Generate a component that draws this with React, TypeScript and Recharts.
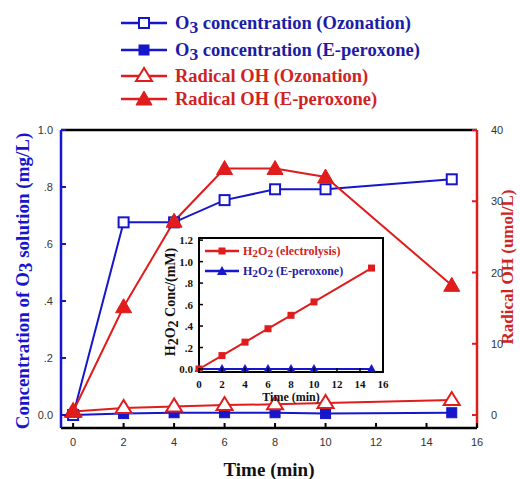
import React from 'react';
import { LineChart, Line, XAxis, YAxis, ReferenceLine, ReferenceArea } from 'recharts';

// sampling times (min)
const times = [0, 2, 4, 6, 8, 10, 15];
// O3 concentration (mg/L)
const o3Ozonation = [0.0, 0.676, 0.676, 0.754, 0.792, 0.792, 0.827];
const o3EPeroxone = [0.0, 0.005, 0.008, 0.008, 0.008, 0.005, 0.008];
// radical OH (umol/L)
const ohOzonation = [0.5, 1.0, 1.2, 1.4, 1.5, 1.7, 2.1];
const ohEPeroxone = [0.5, 15.2, 27.2, 34.6, 34.6, 33.4, 18.2];
// inset: H2O2 (mM)
const h2o2Electrolysis = [0.0, 0.125, 0.25, 0.375, 0.5, 0.625, 0.94];
const h2o2EPeroxone = [0, 0, 0, 0, 0, 0, 0];

const timeTicks = [0, 2, 4, 6, 8, 10, 12, 14, 16];
const leftTicks = [0, 0.2, 0.4, 0.6, 0.8, 1.0];
const rightTicks = [0, 10, 20, 30, 40];
const insetYTicks = [0, 0.2, 0.4, 0.6, 0.8, 1.0, 1.2];

const data = times.map((t, i) => ({
  t,
  o3Oz: o3Ozonation[i],
  o3Ep: o3EPeroxone[i],
  ohOz: ohOzonation[i],
  ohEp: ohEPeroxone[i],
}));

const insetData = times.map((t, i) => ({
  t,
  el: h2o2Electrolysis[i],
  ep: h2o2EPeroxone[i],
}));

const BLUE = '#1616cc';
const BLUE_TEXT = '#1c1ca6';
const RED = '#e01c1c';
const RED_TEXT = '#cf2424';
const SERIF = '"Liberation Serif", "Times New Roman", serif';
const SANS = '"Liberation Sans", Arial, sans-serif';

const fmtDec = (v: number) => {
  if (v === 0) return '0.0';
  if (Math.abs(v - 1) < 1e-9) return '1.0';
  if (Math.abs(v - 1.2) < 1e-9) return '1.2';
  return '.' + Math.round(v * 10);
};

// dots
const openSquare = (p: any) => (
  <rect key={p.index} x={p.cx - 5} y={p.cy - 5} width={10} height={10} fill="#fff" stroke={BLUE} strokeWidth={2} />
);
const filledSquare = (p: any) => (
  <rect key={p.index} x={p.cx - 5} y={p.cy - 5} width={10} height={10} fill={BLUE} stroke={BLUE} strokeWidth={1} />
);
const openTriangle = (p: any) => (
  <polygon
    key={p.index}
    points={`${p.cx},${p.cy - 8} ${p.cx - 8},${p.cy + 5} ${p.cx + 8},${p.cy + 5}`}
    fill="#fff"
    stroke={RED}
    strokeWidth={2}
  />
);
const filledTriangle = (p: any) => (
  <polygon
    key={p.index}
    points={`${p.cx},${p.cy - 8} ${p.cx - 8},${p.cy + 6} ${p.cx + 8},${p.cy + 6}`}
    fill={RED}
    stroke={RED}
  />
);
const smallSquare = (p: any) => (
  <rect key={p.index} x={p.cx - 3.5} y={p.cy - 3.5} width={7} height={7} fill={RED} />
);
const smallTriangle = (p: any) => (
  <polygon
    key={p.index}
    points={`${p.cx},${p.cy - 5} ${p.cx - 5},${p.cy + 4} ${p.cx + 5},${p.cy + 4}`}
    fill={BLUE}
  />
);

// ticks (drawn inward)
const LeftTick = ({ x, y, payload }: any) => (
  <g>
    <line x1={x} y1={y} x2={x + 5} y2={y} stroke={BLUE} strokeWidth={2} />
    <text x={x - 8} y={y} dy={4} textAnchor="end" fontSize={11} fill="#333" fontFamily={SANS}>
      {fmtDec(payload.value)}
    </text>
  </g>
);
const RightTick = ({ x, y, payload }: any) => (
  <g>
    <line x1={x} y1={y} x2={x - 5} y2={y} stroke={RED} strokeWidth={2} />
    <text x={x + 14} y={y} dy={4} textAnchor="start" fontSize={11} fill="#333" fontFamily={SANS}>
      {payload.value}
    </text>
  </g>
);
const BottomTick = ({ x, y, payload }: any) => (
  <g>
    <line x1={x} y1={y} x2={x} y2={y - 5} stroke="#000" strokeWidth={2} />
    <text x={x} y={y + 18} textAnchor="middle" fontSize={11} fill="#333" fontFamily={SANS}>
      {payload.value}
    </text>
  </g>
);
const InsetLeftTick = ({ x, y, payload }: any) => (
  <g>
    <line x1={x} y1={y} x2={x + 4} y2={y} stroke="#000" strokeWidth={1.5} />
    <text x={x - 6} y={y} dy={4} textAnchor="end" fontSize={11} fontWeight="bold" fill="#111" fontFamily={SERIF}>
      {fmtDec(payload.value)}
    </text>
  </g>
);
const InsetBottomTick = ({ x, y, payload }: any) => (
  <g>
    <line x1={x} y1={y} x2={x} y2={y - 4} stroke="#000" strokeWidth={1.5} />
    <text x={x} y={y + 16} textAnchor="middle" fontSize={11} fontWeight="bold" fill="#111" fontFamily={SERIF}>
      {payload.value}
    </text>
  </g>
);

// axis titles
const LeftTitle = ({ viewBox }: any) => {
  const cx = viewBox.x + 22;
  const cy = viewBox.y + viewBox.height / 2 + 2;
  return (
    <text
      x={cx}
      y={cy}
      transform={`rotate(-90 ${cx} ${cy})`}
      textAnchor="middle"
      dominantBaseline="central"
      fontFamily={SERIF}
      fontWeight="bold"
      fontSize={19}
      fill={BLUE}
    >
      Concentration of O<tspan dy={3}>3</tspan>
      <tspan dy={-3}> solution (mg/L)</tspan>
    </text>
  );
};
const RightTitle = ({ viewBox }: any) => {
  const cx = viewBox.x + 30;
  const cy = viewBox.y + viewBox.height / 2 - 12;
  return (
    <text
      x={cx}
      y={cy}
      transform={`rotate(-90 ${cx} ${cy})`}
      textAnchor="middle"
      dominantBaseline="central"
      fontFamily={SERIF}
      fontWeight="bold"
      fontSize={17}
      fill={RED_TEXT}
    >
      Radical OH (umol/L)
    </text>
  );
};
const BottomTitle = ({ viewBox }: any) => (
  <text
    x={viewBox.x + viewBox.width / 2}
    y={viewBox.y + 48}
    textAnchor="middle"
    fontFamily={SERIF}
    fontWeight="bold"
    fontSize={19}
    fill="#111"
  >
    Time (min)
  </text>
);
const InsetLeftTitle = ({ viewBox }: any) => {
  const cx = viewBox.x + 20;
  const cy = viewBox.y + viewBox.height / 2 - 3;
  return (
    <text
      x={cx}
      y={cy}
      transform={`rotate(-90 ${cx} ${cy})`}
      textAnchor="middle"
      dominantBaseline="central"
      fontFamily={SERIF}
      fontWeight="bold"
      fontSize={14}
      fill="#111"
    >
      H<tspan dy={3}>2</tspan>
      <tspan dy={-3}>O</tspan>
      <tspan dy={3}>2</tspan>
      <tspan dy={-3}> Conc/(mM)</tspan>
    </text>
  );
};
const InsetBottomTitle = ({ viewBox }: any) => (
  <text
    x={viewBox.x + viewBox.width / 2}
    y={viewBox.y + 29}
    textAnchor="middle"
    fontFamily={SERIF}
    fontWeight="bold"
    fontSize={12}
    fill="#111"
  >
    Time (min)
  </text>
);

const Sub = ({ children }: any) => (
  <span style={{ fontSize: '0.95em', position: 'relative', top: '0.2em' }}>{children}</span>
);

const mainLegend = [
  { label: <>O<Sub>3</Sub> concentration (Ozonation)</>, text: BLUE_TEXT, line: BLUE, marker: 'openSquare', y: 23 },
  { label: <>O<Sub>3</Sub> concentration (E-peroxone)</>, text: BLUE_TEXT, line: BLUE, marker: 'filledSquare', y: 50 },
  { label: <>Radical OH (Ozonation)</>, text: RED_TEXT, line: RED, marker: 'openTriangle', y: 76 },
  { label: <>Radical OH (E-peroxone)</>, text: RED_TEXT, line: RED, marker: 'filledTriangle', y: 99 },
];

const insetLegend = [
  { label: <>H<Sub>2</Sub>O<Sub>2</Sub> (electrolysis)</>, text: RED_TEXT, line: RED, marker: 'smallSquare', y: 251 },
  { label: <>H<Sub>2</Sub>O<Sub>2</Sub> (E-peroxone)</>, text: BLUE_TEXT, line: BLUE, marker: 'smallTriangle', y: 271 },
];

const markers: Record<string, (p: any) => React.ReactElement> = {
  openSquare,
  filledSquare,
  openTriangle,
  filledTriangle,
  smallSquare,
  smallTriangle,
};

const LegendRow = ({ item, left, lineW, textLeft, fontSize }: any) => (
  <div
    style={{
      position: 'absolute',
      left,
      top: item.y - 12,
      height: 24,
      display: 'flex',
      alignItems: 'center',
      whiteSpace: 'nowrap',
    }}
  >
    <svg width={lineW} height={24} style={{ display: 'block' }}>
      <line x1={0} y1={12} x2={lineW} y2={12} stroke={item.line} strokeWidth={2.5} />
      {markers[item.marker]({ cx: lineW / 2, cy: 12, index: 0 })}
    </svg>
    <span
      style={{
        marginLeft: textLeft,
        color: item.text,
        fontFamily: SERIF,
        fontWeight: 'bold',
        fontSize,
        lineHeight: '24px',
      }}
    >
      {item.label}
    </span>
  </div>
);

export default function App() {
  return (
    <div style={{ position: 'absolute', left: 0, top: 0, width: 520, height: 479, background: '#fff' }}>
      <LineChart width={520} height={479} data={data} margin={{ top: 130, right: 0, bottom: 21, left: 0 }}>
        <XAxis
          dataKey="t"
          type="number"
          domain={[-0.48, 16]}
          ticks={timeTicks}
          interval={0}
          allowDataOverflow
          axisLine={{ stroke: '#000', strokeWidth: 2.5 }}
          tickLine={false}
          tickSize={0}
          tickMargin={0}
          tick={<BottomTick />}
          height={30}
          label={<BottomTitle />}
        />
        <YAxis
          yAxisId="left"
          domain={[-0.0456, 1.0]}
          ticks={leftTicks}
          interval={0}
          allowDataOverflow
          width={61}
          axisLine={{ stroke: BLUE, strokeWidth: 2.5 }}
          tickLine={false}
          tickSize={0}
          tickMargin={0}
          tick={<LeftTick />}
          label={<LeftTitle />}
        />
        <YAxis
          yAxisId="right"
          orientation="right"
          domain={[-1.82, 40]}
          ticks={rightTicks}
          interval={0}
          allowDataOverflow
          width={43}
          axisLine={{ stroke: RED, strokeWidth: 2.5 }}
          tickLine={false}
          tickSize={0}
          tickMargin={0}
          tick={<RightTick />}
          label={<RightTitle />}
        />
        <ReferenceLine yAxisId="left" y={1} stroke="#000" strokeWidth={2.5} />
        <Line yAxisId="left" dataKey="o3Ep" stroke={BLUE} strokeWidth={2} dot={filledSquare} isAnimationActive={false} />
        <Line yAxisId="left" dataKey="o3Oz" stroke={BLUE} strokeWidth={2} dot={openSquare} isAnimationActive={false} />
        <Line yAxisId="right" dataKey="ohOz" stroke={RED} strokeWidth={2} dot={openTriangle} isAnimationActive={false} />
        <Line yAxisId="right" dataKey="ohEp" stroke={RED} strokeWidth={2} dot={filledTriangle} isAnimationActive={false} />
      </LineChart>

      <div style={{ position: 'absolute', left: 150, top: 225 }}>
        <LineChart width={240} height={190} data={insetData} margin={{ top: 13, right: 7, bottom: 0, left: 0 }}>
          <XAxis
            dataKey="t"
            type="number"
            domain={[0, 16]}
            ticks={timeTicks}
            interval={0}
            axisLine={false}
            tickLine={false}
            tickSize={0}
            tickMargin={0}
            tick={<InsetBottomTick />}
            height={43}
            label={<InsetBottomTitle />}
          />
          <YAxis
            domain={[-0.028, 1.22]}
            ticks={insetYTicks}
            interval={0}
            allowDataOverflow
            width={49}
            axisLine={false}
            tickLine={false}
            tickSize={0}
            tickMargin={0}
            tick={<InsetLeftTick />}
            label={<InsetLeftTitle />}
          />
          <ReferenceArea x1={0} x2={16} y1={-0.028} y2={1.22} fill="none" stroke="#000" strokeWidth={2} />
          <Line dataKey="ep" stroke={BLUE} strokeWidth={2} dot={smallTriangle} isAnimationActive={false} />
          <Line dataKey="el" stroke={RED} strokeWidth={2} dot={smallSquare} isAnimationActive={false} />
        </LineChart>
      </div>

      {mainLegend.map((item, i) => (
        <LegendRow key={i} item={item} left={121} lineW={46} textLeft={8} fontSize={18.5} />
      ))}
      {insetLegend.map((item, i) => (
        <LegendRow key={i} item={item} left={205} lineW={34} textLeft={4} fontSize={12} />
      ))}
    </div>
  );
}
